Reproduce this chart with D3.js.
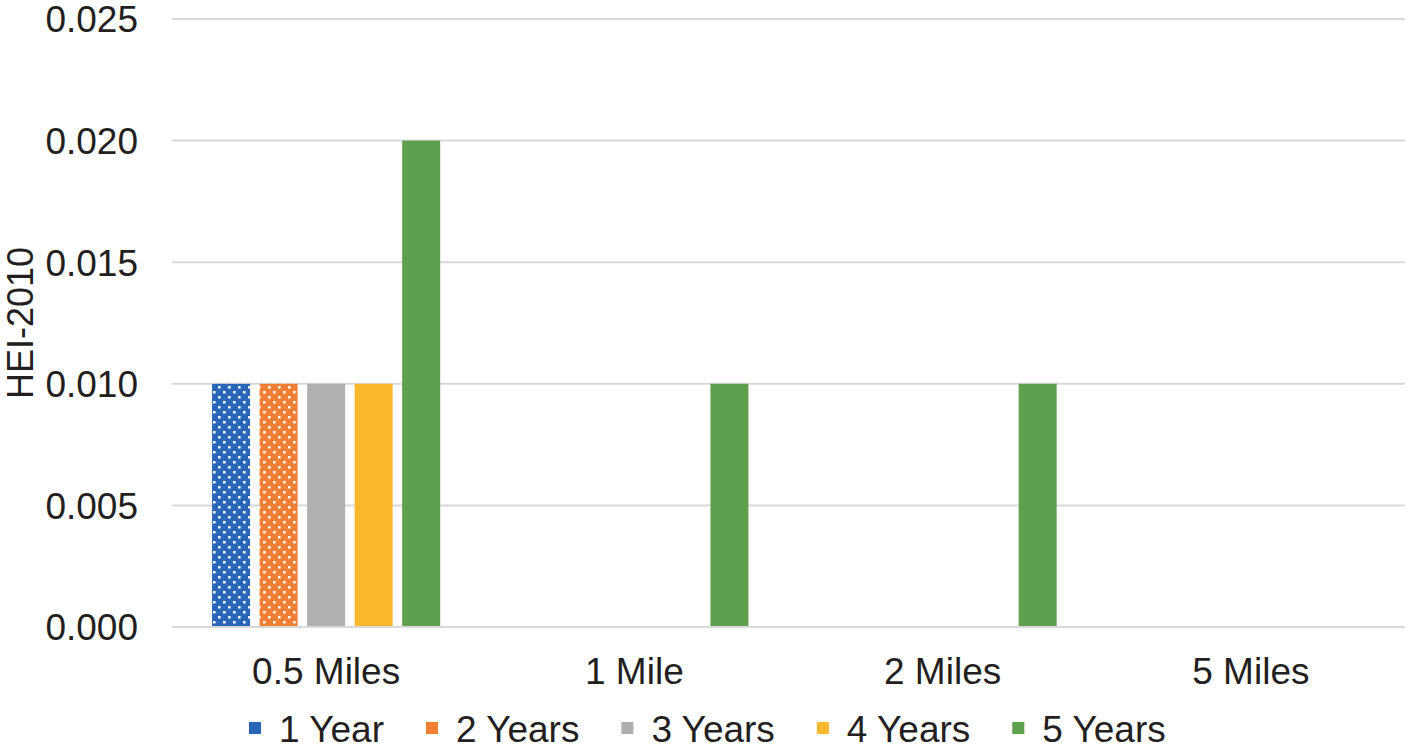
<!DOCTYPE html>
<html>
<head>
<meta charset="utf-8">
<script src="https://cdn.jsdelivr.net/npm/d3@7"></script>
<style>
  html, body { margin: 0; padding: 0; background: #fff; }
  svg text { font-family: "Liberation Sans", Arial, sans-serif; fill: #231f20; }
</style>
</head>
<body>
<div id="chart"></div>
<script>
// dati
const categories = ['0.5 Miles', '1 Mile', '2 Miles', '5 Miles'];
const seriesNames = ['1 Year', '2 Years', '3 Years', '4 Years', '5 Years'];
const year1 = [0.010, 0.000, 0.000, 0.000];
const year2 = [0.010, 0.000, 0.000, 0.000];
const year3 = [0.010, 0.000, 0.000, 0.000];
const year4 = [0.010, 0.000, 0.000, 0.000];
const year5 = [0.020, 0.010, 0.010, 0.000];
const yTicks = [0, 0.005, 0.010, 0.015, 0.020, 0.025];

const seriesValues = [year1, year2, year3, year4, year5];
const colors = ['#2966b8', '#f07e34', '#b0b0b0', '#fbb82e', '#5fa04f'];
const dotted = [true, true, false, false, false];

const W = 1408, H = 750;
const plotLeft = 172, plotRight = 1405, plotTop = 19, plotBottom = 627;

const svg = d3.select('#chart').append('svg')
    .attr('width', W)
    .attr('height', H);

// pattern a puntini per le prime due serie
const defs = svg.append('defs');
seriesNames.forEach((s, i) => {
    if (!dotted[i]) return;
    const p = defs.append('pattern')
        .attr('id', `dots${i}`)
        .attr('patternUnits', 'userSpaceOnUse')
        .attr('width', 10)
        .attr('height', 10);
    p.append('rect').attr('width', 10).attr('height', 10).attr('fill', colors[i]);
    p.append('rect').attr('x', 1).attr('y', 1).attr('width', 2.5).attr('height', 2.5).attr('fill', '#fff');
    p.append('rect').attr('x', 6).attr('y', 6).attr('width', 2.5).attr('height', 2.5).attr('fill', '#fff');
});
const fillOf = i => dotted[i] ? `url(#dots${i})` : colors[i];

// Scale
const x0 = d3.scaleBand()
    .domain(categories)
    .range([plotLeft, plotRight])
    .paddingInner(0.26)
    .paddingOuter(0.13);

const x1 = d3.scaleBand()
    .domain(seriesNames)
    .range([0, x0.bandwidth()])
    .paddingInner(0.2);

const y = d3.scaleLinear()
    .domain([0, 0.025])
    .range([plotBottom, plotTop]);

// griglia
svg.append('g')
    .selectAll('line')
    .data(yTicks)
    .join('line')
    .attr('x1', plotLeft)
    .attr('x2', plotRight)
    .attr('y1', d => y(d))
    .attr('y2', d => y(d))
    .attr('stroke', '#d9d9d9')
    .attr('stroke-width', 2);

// etichette asse y
svg.append('g')
    .selectAll('text')
    .data(yTicks)
    .join('text')
    .attr('x', 138)
    .attr('y', d => y(d))
    .attr('dy', '0.36em')
    .attr('text-anchor', 'end')
    .attr('font-size', '37px')
    .text(d3.format('.3f'));

// titolo asse y
svg.append('text')
    .attr('transform', `translate(33,${(plotTop + plotBottom) / 2}) rotate(-90)`)
    .attr('text-anchor', 'middle')
    .attr('font-size', '36px')
    .text('HEI-2010');

// barre
const groups = svg.append('g')
    .selectAll('g')
    .data(categories)
    .join('g')
    .attr('transform', d => `translate(${x0(d)},0)`);

groups.selectAll('rect')
    .data((c, ci) => seriesNames.map((s, si) => ({ s, si, v: seriesValues[si][ci] })))
    .join('rect')
    .attr('x', d => x1(d.s))
    .attr('width', x1.bandwidth())
    .attr('y', d => y(d.v))
    .attr('height', d => y(0) - y(d.v))
    .attr('fill', d => fillOf(d.si));

// linea di base
svg.append('line')
    .attr('x1', plotLeft)
    .attr('x2', plotRight)
    .attr('y1', y(0))
    .attr('y2', y(0))
    .attr('stroke', '#d9d9d9')
    .attr('stroke-width', 2);

// etichette categorie
svg.append('g')
    .selectAll('text')
    .data(categories)
    .join('text')
    .attr('x', d => x0(d) + x0.bandwidth() / 2)
    .attr('y', 684)
    .attr('text-anchor', 'middle')
    .attr('font-size', '37px')
    .text(d => d);

// legenda (un po' più in alto per non tagliare il testo)
const legend = svg.append('g');
let lx = 249;
seriesNames.forEach((s, i) => {
    const g = legend.append('g');
    g.append('rect')
        .attr('x', lx)
        .attr('y', 722)
        .attr('width', 12)
        .attr('height', 12)
        .attr('fill', colors[i]);
    const t = g.append('text')
        .attr('x', lx + 30)
        .attr('y', 742)
        .attr('font-size', '37px')
        .text(s);
    lx += 30 + t.node().getComputedTextLength() + 42;
});
</script>
</body>
</html>
